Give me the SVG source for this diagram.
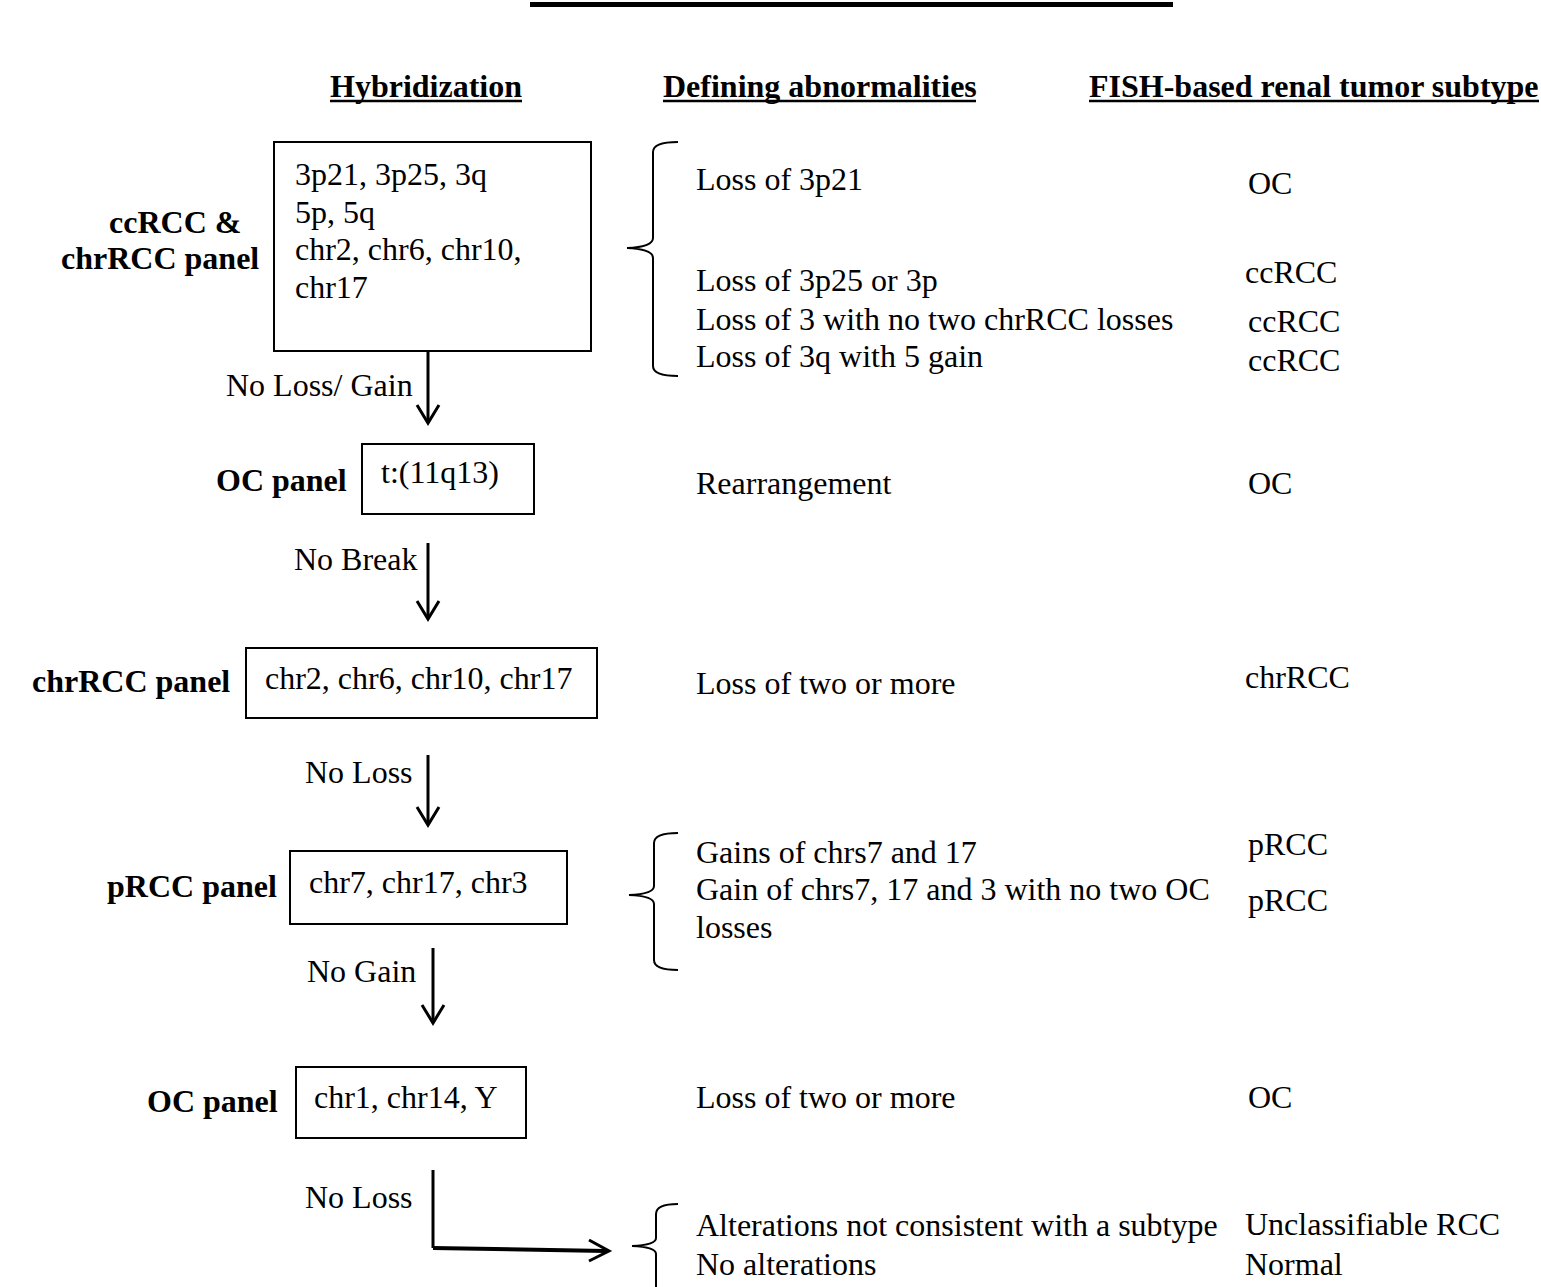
<svg xmlns="http://www.w3.org/2000/svg" width="1541" height="1287" viewBox="0 0 1541 1287">
<style>
text{font-family:"Liberation Serif","Times New Roman",serif;font-size:32px;fill:#000}
.b{font-weight:bold}
.box{fill:none;stroke:#000;stroke-width:2}
.ln{fill:none;stroke:#000;stroke-width:3}
.hd{fill:none;stroke:#000;stroke-width:3;stroke-linejoin:miter}
.br{fill:none;stroke:#000;stroke-width:2}
.ul{stroke:#000;stroke-width:2.5}
</style>
<rect width="1541" height="1287" fill="#fff"/>
<rect x="530" y="2" width="643" height="5" fill="#000"/>
<g id="headers">
<text class="b" x="330" y="97">Hybridization</text>
<line class="ul" x1="330" y1="101" x2="522" y2="101"/>
<text class="b" x="663" y="97">Defining abnormalities</text>
<line class="ul" x1="663" y1="101" x2="976" y2="101"/>
<text class="b" x="1089" y="97">FISH-based renal tumor subtype</text>
<line class="ul" x1="1089" y1="101" x2="1539" y2="101"/>
</g>
<g id="node-ccrcc-chrrcc">
<text class="b" x="109" y="233">ccRCC &amp;</text>
<text class="b" x="61" y="269">chrRCC panel</text>
<rect class="box" x="274" y="142" width="317" height="209"/>
<text x="295" y="185">3p21, 3p25, 3q</text>
<text x="295" y="223">5p, 5q</text>
<text x="295" y="260">chr2, chr6, chr10,</text>
<text x="295" y="298">chr17</text>
</g>
<g id="node-oc-panel-1">
<text class="b" x="216" y="491">OC panel</text>
<rect class="box" x="362" y="444" width="172" height="70"/>
<text x="381" y="483">t:(11q13)</text>
</g>
<g id="node-chrrcc">
<text class="b" x="32" y="692">chrRCC panel</text>
<rect class="box" x="246" y="648" width="351" height="70"/>
<text x="265" y="689">chr2, chr6, chr10, chr17</text>
</g>
<g id="node-prcc">
<text class="b" x="107" y="897">pRCC panel</text>
<rect class="box" x="290" y="851" width="277" height="73"/>
<text x="309" y="893">chr7, chr17, chr3</text>
</g>
<g id="node-oc-panel-2">
<text class="b" x="147" y="1112">OC panel</text>
<rect class="box" x="296" y="1067" width="230" height="71"/>
<text x="314" y="1108">chr1, chr14, Y</text>
</g>
<g id="connectors">
<line class="ln" x1="428" y1="351" x2="428" y2="421"/>
<polyline class="hd" points="417,405 428,423 439,405"/>
<text x="226" y="396">No Loss/ Gain</text>
<line class="ln" x1="428" y1="543" x2="428" y2="617"/>
<polyline class="hd" points="417,601 428,619 439,601"/>
<text x="294" y="570">No Break</text>
<line class="ln" x1="428" y1="755" x2="428" y2="823"/>
<polyline class="hd" points="417,807 428,825 439,807"/>
<text x="305" y="783">No Loss</text>
<line class="ln" x1="433" y1="948" x2="433" y2="1021"/>
<polyline class="hd" points="422,1005 433,1023 444,1005"/>
<text x="307" y="982">No Gain</text>
<polyline fill="none" stroke="#000" stroke-width="3" points="433,1170 433,1248"/>
<line stroke="#000" stroke-width="4" x1="433" y1="1248" x2="606" y2="1251"/>
<polyline class="hd" stroke-width="4" points="589,1240 609,1251 589,1261"/>
<text x="305" y="1208">No Loss</text>
</g>
<g id="brace-1">
<path class="br" d="M678,142 Q653,142 653,152 L653,238 Q653,247 627,248 Q653,249 653,258 L653,366 Q653,376 678,376"/>
</g>
<g id="brace-2">
<path class="br" d="M678,833 Q654,833 654,843 L654,886 Q654,894 629,895 Q654,896 654,904 L654,960 Q654,970 678,970"/>
</g>
<g id="brace-3">
<path class="br" d="M678,1204 Q656,1204 656,1214 L656,1238 Q656,1245 632,1246 Q656,1247 656,1254 L656,1290"/>
</g>
<g id="results">
<text x="696" y="190">Loss of 3p21</text>
<text x="1248" y="194">OC</text>
<text x="696" y="291">Loss of 3p25 or 3p</text>
<text x="1245" y="283">ccRCC</text>
<text x="696" y="330">Loss of 3 with no two chrRCC losses</text>
<text x="1248" y="332">ccRCC</text>
<text x="696" y="367">Loss of 3q with 5 gain</text>
<text x="1248" y="371">ccRCC</text>
<text x="696" y="494">Rearrangement</text>
<text x="1248" y="494">OC</text>
<text x="696" y="694">Loss of two or more</text>
<text x="1245" y="688">chrRCC</text>
<text x="696" y="863">Gains of chrs7 and 17</text>
<text x="1248" y="855">pRCC</text>
<text x="696" y="900">Gain of chrs7, 17 and 3 with no two OC</text>
<text x="1248" y="911">pRCC</text>
<text x="696" y="938">losses</text>
<text x="696" y="1108">Loss of two or more</text>
<text x="1248" y="1108">OC</text>
<text x="696" y="1236">Alterations not consistent with a subtype</text>
<text x="1245" y="1235">Unclassifiable RCC</text>
<text x="696" y="1275">No alterations</text>
<text x="1245" y="1275">Normal</text>
</g>
</svg>
